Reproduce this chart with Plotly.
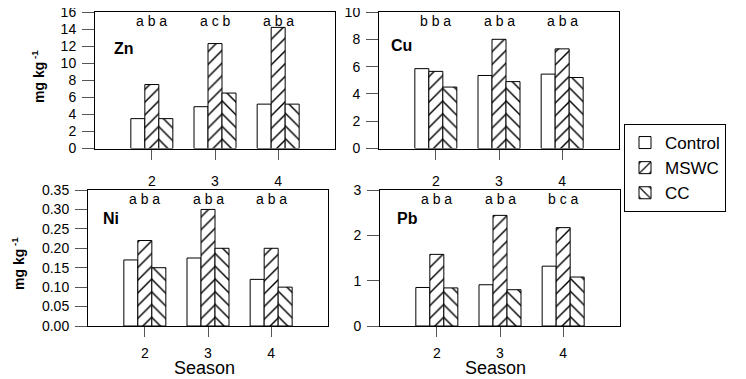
import plotly.graph_objects as go

seasons = [2, 3, 4]
treatments = ["Control", "MSWC", "CC"]

zn_control = [3.5, 4.9, 5.2]
zn_mswc = [7.5, 12.3, 14.2]
zn_cc = [3.5, 6.5, 5.2]
zn_letters = ["a b a", "a c b", "a b a"]

cu_control = [5.85, 5.35, 5.45]
cu_mswc = [5.65, 8.0, 7.3]
cu_cc = [4.5, 4.9, 5.2]
cu_letters = ["b b a", "a b a", "a b a"]

ni_control = [0.17, 0.175, 0.12]
ni_mswc = [0.22, 0.30, 0.20]
ni_cc = [0.15, 0.20, 0.10]
ni_letters = ["a b a", "a b a", "a b a"]

pb_control = [0.85, 0.91, 1.32]
pb_mswc = [1.58, 2.44, 2.17]
pb_cc = [0.84, 0.80, 1.08]
pb_letters = ["a b a", "a b a", "b c a"]

panels = [
    ("Zn", [zn_control, zn_mswc, zn_cc], zn_letters, [0, 16], 2, None),
    ("Cu", [cu_control, cu_mswc, cu_cc], cu_letters, [0, 10], 2, None),
    ("Ni", [ni_control, ni_mswc, ni_cc], ni_letters, [0, 0.35], 0.05, ".2f"),
    ("Pb", [pb_control, pb_mswc, pb_cc], pb_letters, [0, 3], 1, None),
]

# the page body has an 8px margin; the figure is sized to fill the rest of the window
OFF = 8
W, H = 746 - OFF, 379 - OFF


def px(x):
    return (x - OFF) / W


def py(y):
    return 1 - (y - OFF) / H


# panel boxes in window pixels: left, right, top, bottom
boxes = [
    (95, 335, 12, 148.5),
    (379, 619, 12, 148.5),
    (88, 328, 190, 326),
    (380, 620, 190, 326),
]
label_pos = [(0.07, 0.735), (0.042, 0.758), (0.054, 0.794), (0.0625, 0.794)]
xlabel_standoff = [10, 10, 4, 4]

FONT = "Arial, Liberation Sans, sans-serif"
patterns = [dict(shape=""),
            dict(shape="/", size=9, solidity=0.16, fgcolor="black", bgcolor="white"),
            dict(shape="\\", size=9, solidity=0.16, fgcolor="black", bgcolor="white")]

fig = go.Figure()
annotations = []
for i, (name, series, letters, yr, dt, fmt) in enumerate(panels):
    ax = "" if i == 0 else str(i + 1)
    for j, (tname, vals) in enumerate(zip(treatments, series)):
        fig.add_trace(go.Bar(
            x=seasons, y=vals, name=tname, legendgroup=tname, showlegend=(i == 0),
            xaxis="x" + ax, yaxis="y" + ax,
            marker=dict(color="white", line=dict(color="black", width=1), pattern=patterns[j]),
        ))
    l, r, t, b = boxes[i]
    xd = [px(l), px(r)]
    yd = [py(b), py(t)]
    fig.layout["xaxis" + ax] = dict(
        domain=xd, range=[1.1, 4.9], anchor="y" + ax, tickvals=seasons,
        showline=True, linecolor="black", linewidth=1, mirror=True, automargin=False,
        ticks="outside", ticklen=10, tickcolor="#555", showgrid=False, zeroline=False,
        tickfont=dict(family=FONT, size=14, color="black"), ticklabelstandoff=xlabel_standoff[i],
        ticklabeloverflow="allow",
    )
    fig.layout["yaxis" + ax] = dict(
        domain=yd, range=yr, anchor="x" + ax, dtick=dt, tick0=0,
        tickformat=fmt if fmt else "", automargin=False,
        showline=True, linecolor="black", linewidth=1, mirror=True,
        ticks="outside", ticklen=12, tickcolor="#555", showgrid=False, zeroline=False,
        tickfont=dict(family=FONT, size=14, color="black"), ticklabelstandoff=3,
        ticklabeloverflow="allow",
    )
    for s, lt in zip(seasons, letters):
        annotations.append(dict(x=s, y=0.935, xref="x" + ax, yref="y" + ax + " domain",
                                text=lt, showarrow=False, font=dict(family=FONT, size=14, color="black"),
                                xanchor="center", yanchor="middle"))
    lx, ly = label_pos[i]
    annotations.append(dict(x=lx, y=ly, xref="x" + ax + " domain", yref="y" + ax + " domain",
                            text="<b>" + name + "</b>", showarrow=False,
                            font=dict(family=FONT, size=16, color="black"),
                            xanchor="left", yanchor="middle"))

# y titles
for (ax_, ay_) in [(38, 77), (18, 264)]:
    annotations.append(dict(x=px(ax_), y=py(ay_), xref="paper", yref="paper",
                            text="<b>mg kg<sup> -1</sup></b>", textangle=-90, showarrow=False,
                            font=dict(family=FONT, size=14, color="black"),
                            xanchor="center", yanchor="middle"))
# x titles
for (ax_, ay_) in [(204, 368), (495, 368)]:
    annotations.append(dict(x=px(ax_), y=py(ay_), xref="paper", yref="paper",
                            text="Season", showarrow=False,
                            font=dict(family=FONT, size=18, color="black"),
                            xanchor="center", yanchor="middle"))

fig.update_layout(
    template="none",
    width=W, height=H, margin=dict(l=0, r=0, t=0, b=0, autoexpand=False),
    paper_bgcolor="white", plot_bgcolor="white",
    barmode="group", bargap=0.335, bargroupgap=0,
    annotations=annotations,
    legend=dict(x=px(624), y=py(124), xanchor="left", yanchor="top",
                bordercolor="black", borderwidth=1, bgcolor="white",
                font=dict(family=FONT, size=17, color="black"), itemwidth=30,
                tracegroupgap=0),
    showlegend=True,
)

fig.write_html("out.html")
